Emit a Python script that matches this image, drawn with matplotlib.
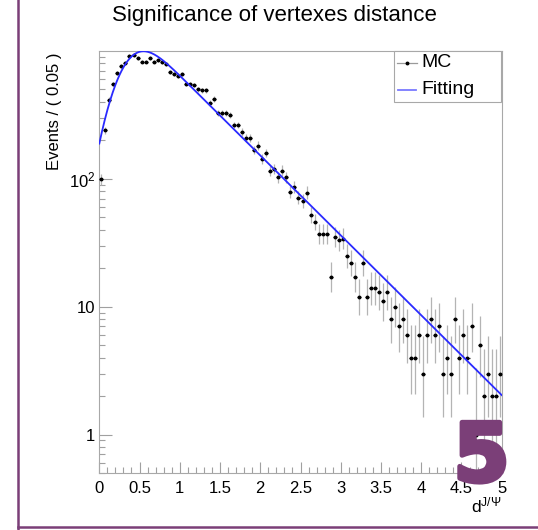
import math
import numpy as np
import matplotlib
matplotlib.use("Agg")
import matplotlib.pyplot as plt
import matplotlib.patheffects as pe
from matplotlib.ticker import FixedLocator, LogLocator, NullFormatter, MultipleLocator
from matplotlib.lines import Line2D
from matplotlib.patches import Rectangle

plt.rcParams["font.family"] = ["Liberation Sans", "DejaVu Sans"]
plt.rcParams["mathtext.fontset"] = "custom"
plt.rcParams["mathtext.rm"] = "Liberation Sans"
plt.rcParams["mathtext.it"] = "Liberation Sans:italic"

# ---------------- data ----------------
x_range = (0.0, 5.0)
bin_width = 0.05
counts = [99, 240, 412, 553, 675, 765, 809, 918, 934, 880,
          827, 827, 880, 827, 849, 813, 789, 684, 659, 643,
          663, 553, 553, 543, 503, 494, 494, 393, 420, 326,
          327, 327, 315, 264, 264, 232, 209, 209, 168, 182,
          143, 159, 115, 120, 103, 116, 103, 79, 87, 71,
          67, 78, 52, 46, 37, 37, 37, 17, 35, 33,
          34, 25, 22, 17, 12, 22, 12, 14, 14, 13,
          11, 13, 8, 10, 7, 8, 6, 4, 4, 6,
          3, 6, 8, 6, 7, 3, 4, 3, 8, 4,
          6, 4, 7, 1, 5, 2, 3, 2, 2, 3]

# fitted model parameters (exponential decay x turn-on)
fit_norm = 2710.0
fit_slope = 1.439
fit_mu = 0.345
fit_sigma = 0.33

title = "Significance of vertexes distance"
ylabel = "Events / ( 0.05 )"
xlabel = r"d$^{\mathregular{J/\Psi}}$"
legend_labels = ["MC", "Fitting"]
xticks = [0, 0.5, 1, 1.5, 2, 2.5, 3, 3.5, 4, 4.5, 5]
xticklabels = ["0", "0.5", "1", "1.5", "2", "2.5", "3", "3.5", "4", "4.5", "5"]
yticks = [1, 10, 100]
yticklabels = ["1", "10", r"$\mathregular{10^{2}}$"]


def pois_cdf(k, mu):
    if k < 0:
        return 0.0
    s = 0.0
    lm = math.log(mu)
    for j in range(k + 1):
        s += math.exp(-mu + j * lm - math.lgamma(j + 1))
    return s


def garwood(n):
    a = 0.158655
    if n > 40:
        r = math.sqrt(n + 0.25)
        return n + 0.5 - r, n + 0.5 + r
    if n == 0:
        lo = 0.0
    else:
        lo_a, lo_b = 1e-6, float(n)
        for _ in range(60):
            m = 0.5 * (lo_a + lo_b)
            if pois_cdf(n - 1, m) > 1 - a:
                lo_a = m
            else:
                lo_b = m
        lo = 0.5 * (lo_a + lo_b)
    up_a, up_b = float(max(n, 1e-6)), n + 20.0
    for _ in range(60):
        m = 0.5 * (up_a + up_b)
        if pois_cdf(n, m) > a:
            up_a = m
        else:
            up_b = m
    up = 0.5 * (up_a + up_b)
    return lo, up


counts_arr = np.array(counts, dtype=float)
centers = x_range[0] + (np.arange(len(counts)) + 0.5) * bin_width
lims = np.array([garwood(int(n)) for n in counts])

# ---------------- figure ----------------
W, H = 538, 530
fig = plt.figure(figsize=(W / 100, H / 100), dpi=100)


def fx(px):
    return px / W


def fy(py):
    return 1 - py / H


ax_l, ax_r, ax_t, ax_b = 99.3, 501.7, 51.0, 473.0
ax = fig.add_axes([fx(ax_l), fy(ax_b), fx(ax_r - ax_l), (ax_b - ax_t) / H])
ax.set_yscale("log")
ax.set_xlim(*x_range)
ax.set_ylim(0.5, 1000)

# error bars
ax.vlines(centers, lims[:, 0], lims[:, 1], color="#b4b4b4", lw=0.9, zorder=2)
ax.hlines(counts_arr, centers - bin_width / 2, centers + bin_width / 2,
          color="#222222", lw=0.9, zorder=3)
ax.plot(centers, counts_arr, "o", color="black", ms=1.8, zorder=4)

# fit curve
xs = np.linspace(x_range[0], x_range[1], 600)
erf_v = np.vectorize(math.erf)
fit_y = fit_norm * np.exp(-fit_slope * xs) * 0.5 * (1 + erf_v((xs - fit_mu) / fit_sigma))
ax.plot(xs, fit_y, color="#2a2aff", lw=1.3, zorder=5)

# axes styling
for sp in ax.spines.values():
    sp.set_color("#a8a8a8")
    sp.set_linewidth(0.8)
ax.xaxis.set_major_locator(FixedLocator(xticks))
ax.set_xticklabels(xticklabels)
ax.xaxis.set_minor_locator(MultipleLocator(0.1))
ax.yaxis.set_major_locator(FixedLocator(yticks))
ax.set_yticklabels(yticklabels)
ax.yaxis.set_minor_locator(LogLocator(base=10, subs=np.arange(2, 10)))
ax.yaxis.set_minor_formatter(NullFormatter())
ax.tick_params(axis="x", which="major", direction="in", length=8, width=0.8,
               color="#a0a0a0", labelsize=12, pad=6, top=False)
ax.tick_params(axis="x", which="minor", direction="in", length=4.3, width=0.8,
               color="#a0a0a0", top=False)
ax.tick_params(axis="y", which="major", direction="in", length=9.5, width=0.8,
               color="#a0a0a0", labelsize=12, pad=3, right=False)
ax.tick_params(axis="y", which="minor", direction="in", length=4.6, width=0.8,
               color="#a0a0a0", right=False)

# title / labels
fig.text(fx(274.5), fy(16), title, ha="center", va="center", fontsize=16)
fig.text(fx(55), fy(52), ylabel, rotation=90, ha="center", va="top", fontsize=12)
fig.text(fx(502), fy(512), xlabel, ha="right", va="baseline", fontsize=12.5)

# legend
leg_l, leg_r, leg_t, leg_b = 394, 500.7, 51, 101.7
fig.add_artist(Rectangle((fx(leg_l), fy(leg_b)), fx(leg_r - leg_l), (leg_b - leg_t) / H,
                         transform=fig.transFigure, facecolor="white",
                         edgecolor="#a8a8a8", lw=0.8, zorder=10))
fig.add_artist(Line2D([fx(397), fx(417)], [fy(62.7), fy(62.7)], color="#9a9a9a",
                      lw=0.9, transform=fig.transFigure, zorder=11))
fig.add_artist(Line2D([fx(407)], [fy(62.7)], marker="o", ms=1.8, color="black",
                      transform=fig.transFigure, zorder=12))
fig.add_artist(Line2D([fx(398), fx(416)], [fy(90), fy(90)], color="#7a7aff",
                      lw=1.3, transform=fig.transFigure, zorder=11))
fig.text(fx(421.7), fy(62.7), legend_labels[0], ha="left", va="center", fontsize=14, zorder=12)
fig.text(fx(421.7), fy(90), legend_labels[1], ha="left", va="center", fontsize=14, zorder=12)

# decorative frame lines and badge
purple = "#7b3f78"
fig.add_artist(Line2D([fx(17.5), fx(17.5)], [0, 1], color=purple, lw=1.8,
                      transform=fig.transFigure))
fig.add_artist(Line2D([fx(17.5), 1], [fy(527), fy(527)], color=purple, lw=1.8,
                      transform=fig.transFigure))
badge = fig.text(fx(481.5), fy(459), "5", ha="center", va="center", fontsize=58,
                 fontweight="bold", family="DejaVu Sans", color=purple, zorder=20)
badge.set_path_effects([pe.Stroke(linewidth=3.5, foreground=purple), pe.Normal()])

fig.savefig("out.png", dpi=100)
